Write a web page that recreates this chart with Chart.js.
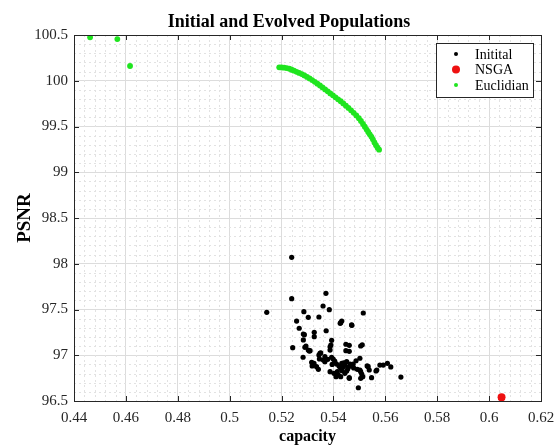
<!DOCTYPE html>
<html>
<head>
<meta charset="utf-8">
<script src="https://cdn.jsdelivr.net/npm/chart.js@4"></script>
<style>
html,body{margin:0;padding:0;background:#fff;}
#wrap{width:554px;height:446px;position:relative;}
</style>
</head>
<body>
<div id="wrap"><canvas id="c"></canvas></div>
<script>
const chartTitle = 'Initial and Evolved Populations';
const xTitle = 'capacity';
const yTitle = 'PSNR';
const seriesNames = ['Initital', 'NSGA', 'Euclidian'];

const xTickValues = [0.44, 0.46, 0.48, 0.5, 0.52, 0.54, 0.56, 0.58, 0.6, 0.62];
const xTickLabels = ['0.44', '0.46', '0.48', '0.5', '0.52', '0.54', '0.56', '0.58', '0.6', '0.62'];
const yTickValues = [96.5, 97, 97.5, 98, 98.5, 99, 99.5, 100, 100.5];
const yTickLabels = ['96.5', '97', '97.5', '98', '98.5', '99', '99.5', '100', '100.5'];

const initX = [0.5239,0.5239,0.5143,0.5371,0.5360,0.5384,0.5286,0.5303,0.5344,0.5515,
  0.5258,0.5432,0.5426,0.5471,0.5268,0.5326,0.5372,0.5288,0.5326,0.5284,
  0.5393,0.5243,0.5290,0.5303,0.5310,0.5283,0.5387,0.5387,0.5448,0.5461,
  0.5448,0.5461,0.5505,0.5511,0.5344,0.5351,0.5367,0.5393,0.5399,0.5316,
  0.5325,0.5335,0.5342,0.5318,0.5367,0.5412,0.5415,0.5419,0.5410,0.5387,
  0.5432,0.5438,0.5444,0.5451,0.5457,0.5464,0.5470,0.5476,0.5487,0.5502,
  0.5451,0.5461,0.5444,0.5492,0.5505,0.5513,0.5496,0.5534,0.5538,0.5547,
  0.5564,0.5579,0.5592,0.5608,0.5621,0.5660,0.5428,0.5433,0.5294,0.5307,
  0.5348,0.5361,0.5428,0.5461,0.5505,0.5530,0.5567,0.5502,0.5509,0.5402,
  0.5390,0.5470,0.5428,0.5284,0.5422,0.5440,0.5455,0.5478,0.5395,0.5405,
  0.5378,0.5346];
const initY = [98.07,97.618,97.469,97.677,97.538,97.498,97.476,97.415,97.418,97.462,
  97.374,97.374,97.349,97.327,97.295,97.251,97.268,97.225,97.203,97.167,
  97.163,97.083,97.087,97.057,97.050,96.978,97.093,97.057,97.120,97.109,
  97.050,97.043,97.101,97.115,97.003,97.025,96.984,96.978,96.959,96.923,
  96.912,96.875,96.846,96.883,96.930,96.904,96.820,96.784,96.766,96.820,
  96.912,96.875,96.893,96.930,96.868,96.904,96.883,96.904,96.940,96.967,
  96.828,96.755,96.803,96.846,96.820,96.766,96.645,96.875,96.839,96.755,
  96.828,96.893,96.893,96.912,96.872,96.762,96.857,96.831,97.101,97.046,
  97.021,96.948,96.766,96.748,96.748,96.883,96.839,96.839,96.795,96.803,
  97.112,97.331,97.356,97.232,96.880,96.918,96.850,96.862,96.900,96.935,
  96.955,96.960];

const nsgaX = [0.6048];
const nsgaY = [96.54];

const eucX = [0.4462,0.4567,0.4616,
  0.5191,0.5200,0.5210,0.5220,0.5230,0.5239,0.5248,0.5258,0.5268,0.5278,
  0.5288,0.5298,0.5308,0.5318,0.5328,0.5338,0.5348,0.5358,0.5368,0.5378,
  0.5388,0.5398,0.5408,0.5418,0.5428,0.5438,0.5448,0.5458,0.5468,0.5478,
  0.5488,0.5498,0.5506,0.5514,0.5521,0.5528,0.5534,0.5540,0.5546,0.5552,
  0.5558,0.5564,0.5570,0.5576];
const eucY = [100.475,100.456,100.161,
  100.147,100.146,100.143,100.138,100.131,100.120,100.110,100.098,100.086,100.073,
  100.058,100.042,100.025,100.007,99.988,99.968,99.948,99.927,99.905,99.884,
  99.862,99.841,99.819,99.797,99.776,99.752,99.728,99.703,99.677,99.650,
  99.621,99.590,99.560,99.528,99.497,99.466,99.440,99.415,99.390,99.360,
  99.325,99.295,99.268,99.247];

const SERIF = '"Liberation Serif", "Times New Roman", serif';
const AXIS_COLOR = '#262626';

function pts(xs, ys) { return xs.map((x, i) => ({ x: x, y: ys[i] })); }

const minorGrid = {
  id: 'minorGrid',
  beforeDatasetsDraw(chart) {
    const { ctx, chartArea: a, scales: { x, y } } = chart;
    ctx.save();
    ctx.strokeStyle = '#e2e2e2';
    ctx.lineWidth = 1;
    ctx.setLineDash([2, 3]);
    for (let i = 0; i < xTickValues.length - 1; i++) {
      const step = (xTickValues[i + 1] - xTickValues[i]) / 5;
      for (let k = 1; k < 5; k++) {
        const px = Math.round(x.getPixelForValue(xTickValues[i] + k * step)) + 0.5;
        ctx.beginPath(); ctx.moveTo(px, a.top); ctx.lineTo(px, a.bottom); ctx.stroke();
      }
    }
    for (let i = 0; i < yTickValues.length - 1; i++) {
      const step = (yTickValues[i + 1] - yTickValues[i]) / 5;
      for (let k = 1; k < 5; k++) {
        const py = Math.round(y.getPixelForValue(yTickValues[i] + k * step)) + 0.5;
        ctx.beginPath(); ctx.moveTo(a.left, py); ctx.lineTo(a.right, py); ctx.stroke();
      }
    }
    ctx.restore();
  }
};

const frameAndDecor = {
  id: 'frameAndDecor',
  afterDraw(chart) {
    const { ctx, chartArea: a, scales: { x, y } } = chart;
    ctx.save();
    ctx.strokeStyle = AXIS_COLOR;
    ctx.lineWidth = 1;
    ctx.setLineDash([]);
    ctx.strokeRect(Math.round(a.left) + 0.5, Math.round(a.top) + 0.5,
      Math.round(a.right - a.left), Math.round(a.bottom - a.top));
    const tl = 5;
    ctx.beginPath();
    xTickValues.forEach(v => {
      const px = Math.round(x.getPixelForValue(v)) + 0.5;
      ctx.moveTo(px, a.bottom); ctx.lineTo(px, a.bottom - tl);
      ctx.moveTo(px, a.top); ctx.lineTo(px, a.top + tl);
    });
    yTickValues.forEach(v => {
      const py = Math.round(y.getPixelForValue(v)) + 0.5;
      ctx.moveTo(a.left, py); ctx.lineTo(a.left + tl, py);
      ctx.moveTo(a.right, py); ctx.lineTo(a.right - tl, py);
    });
    ctx.stroke();

    // title
    ctx.fillStyle = '#000';
    ctx.font = 'bold 18px ' + SERIF;
    ctx.textAlign = 'center';
    ctx.textBaseline = 'middle';
    ctx.fillText(chartTitle, 289, 22);

    // legend
    const lx = 436, ly = 43, lw = 97, lh = 54;
    ctx.fillStyle = '#fff';
    ctx.fillRect(lx, ly, lw, lh);
    ctx.strokeStyle = AXIS_COLOR;
    ctx.strokeRect(lx + 0.5, ly + 0.5, lw, lh);
    ctx.font = '14px ' + SERIF;
    ctx.textAlign = 'left';
    ctx.textBaseline = 'middle';
    chart.data.datasets.forEach((ds, i) => {
      const cy = ly + 11 + i * 15.5;
      ctx.fillStyle = ds.backgroundColor;
      ctx.beginPath();
      ctx.arc(lx + 20, cy, ds.legendRadius, 0, Math.PI * 2);
      ctx.fill();
      ctx.fillStyle = '#000';
      ctx.fillText(ds.label, lx + 39, cy + 1);
    });
    ctx.restore();
  }
};

new Chart(document.getElementById('c'), {
  type: 'scatter',
  data: {
    datasets: [
      { label: seriesNames[0], data: pts(initX, initY), backgroundColor: '#000', borderColor: '#000',
        pointRadius: 2.6, borderWidth: 0, legendRadius: 2 },
      { label: seriesNames[1], data: pts(nsgaX, nsgaY), backgroundColor: '#ee1111', borderColor: '#ee1111',
        pointRadius: 4, borderWidth: 0, legendRadius: 4 },
      { label: seriesNames[2], data: pts(eucX, eucY), backgroundColor: '#1fe51f', borderColor: '#1fe51f',
        pointRadius: 2.9, borderWidth: 0, legendRadius: 2 }
    ]
  },
  options: {
    responsive: true,
    maintainAspectRatio: false,
    animation: false,
    layout: { padding: { top: 35, right: 13, left: 0, bottom: 0 } },
    plugins: { legend: { display: false }, title: { display: false }, tooltip: { enabled: false } },
    scales: {
      x: {
        type: 'linear', min: 0.44, max: 0.62,
        afterBuildTicks: s => { s.ticks = xTickValues.map(v => ({ value: v })); },
        afterFit: s => { s.height = 45; s.paddingLeft = 0; s.paddingRight = 0; },
        ticks: {
          callback: (v, i) => xTickLabels[i],
          font: { family: SERIF, size: 15 }, color: AXIS_COLOR, padding: 8, maxRotation: 0, autoSkip: false
        },
        grid: { color: '#dcdcdc', lineWidth: 1, drawTicks: false },
        border: { display: false },
        title: { display: true, text: xTitle, font: { family: SERIF, size: 16, weight: 'bold' },
          color: '#000', padding: { top: 0, bottom: 0 } }
      },
      y: {
        type: 'linear', min: 96.5, max: 100.5,
        afterBuildTicks: s => { s.ticks = yTickValues.map(v => ({ value: v })); },
        afterFit: s => { s.width = 74; s.paddingTop = 0; s.paddingBottom = 0; },
        ticks: {
          callback: (v, i) => yTickLabels[i],
          font: { family: SERIF, size: 15 }, color: AXIS_COLOR, padding: 6, autoSkip: false
        },
        grid: { color: '#dcdcdc', lineWidth: 1, drawTicks: false },
        border: { display: false },
        title: { display: true, text: yTitle, font: { family: SERIF, size: 19, weight: 'bold' },
          color: '#000', padding: { top: 14, bottom: 0 } }
      }
    }
  },
  plugins: [minorGrid, frameAndDecor]
});
</script>
</body>
</html>
